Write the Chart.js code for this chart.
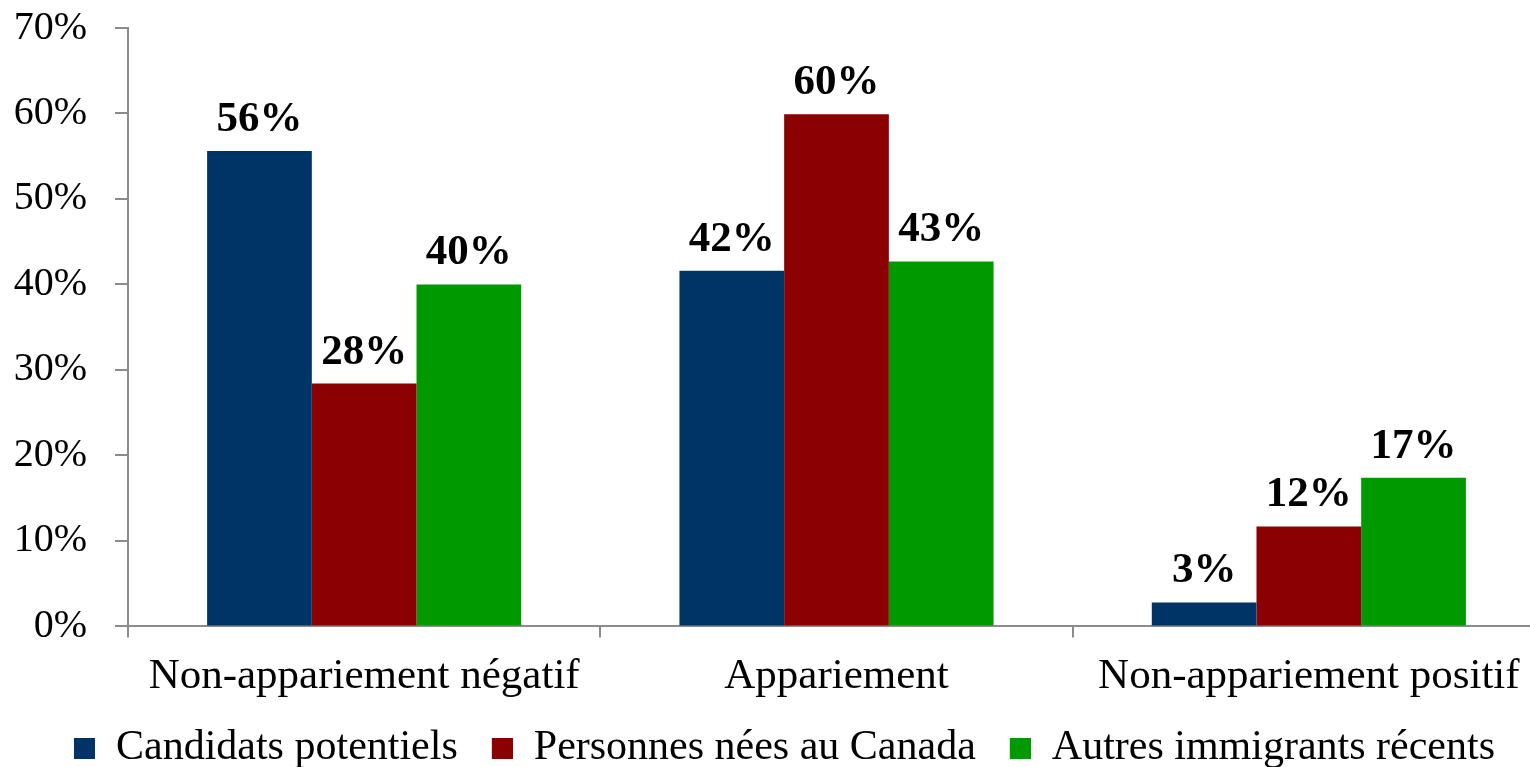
<!DOCTYPE html>
<html>
<head>
<meta charset="utf-8">
<script src="https://cdn.jsdelivr.net/npm/chart.js@4"></script>
<style>
    body { margin: 0; overflow: hidden; background: #fff; width: 1530px; height: 767px; position: relative; }
    #wrap { position: absolute; left: 0; top: -24px; width: 1545px; height: 803px; }
</style>
</head>
<body>
<div id="wrap"><canvas id="chart"></canvas></div>
<script>
const categories = ["Non-appariement négatif", "Appariement", "Non-appariement positif"];
const candidats = [55.6, 41.6, 2.8];
const natifs = [28.4, 59.9, 11.7];
const autresImmigrants = [40.0, 42.7, 17.4];
const seriesNames = ["Candidats potentiels", "Personnes nées au Canada", "Autres immigrants récents"];
const seriesColors = ["#003366", "#8b0000", "#009900"];
const yTicks = [0, 10, 20, 30, 40, 50, 60, 70];

const FONT = '"Liberation Serif", "Times New Roman", serif';
const AXIS_GRAY = "#8c8c8c";

// carré de légende avec un espace vide à gauche (écart entre les entrées)
function legendSwatch(color) {
    const c = document.createElement("canvas");
    c.width = 45;
    c.height = 21;
    const g = c.getContext("2d");
    g.fillStyle = color;
    g.fillRect(24, 0, 21, 21);
    return c;
}
const swatches = seriesColors.map(legendSwatch);

// étiquettes de valeur au-dessus des barres
const valueLabels = {
    id: "valueLabels",
    afterDatasetsDraw(chart) {
        const ctx = chart.ctx;
        ctx.save();
        ctx.font = "bold 43px " + FONT;
        ctx.fillStyle = "#000";
        ctx.textAlign = "center";
        ctx.textBaseline = "alphabetic";
        chart.data.datasets.forEach((ds, i) => {
            chart.getDatasetMeta(i).data.forEach((bar, j) => {
                ctx.fillText(Math.round(ds.data[j]) + "%", bar.x, bar.y - 20);
            });
        });
        ctx.restore();
    }
};

new Chart(document.getElementById("chart"), {
    type: "bar",
    data: {
        labels: categories,
        datasets: [
            { label: seriesNames[0], data: candidats, backgroundColor: seriesColors[0] },
            { label: seriesNames[1], data: natifs, backgroundColor: seriesColors[1] },
            { label: seriesNames[2], data: autresImmigrants, backgroundColor: seriesColors[2] }
        ]
    },
    options: {
        animation: false,
        responsive: true,
        maintainAspectRatio: false,
        devicePixelRatio: 1,
        layout: { padding: { left: 0, top: 6, right: 0, bottom: 0 } },
        datasets: {
            bar: { categoryPercentage: 0.665, barPercentage: 1.0 }
        },
        plugins: {
            tooltip: { enabled: false },
            legend: {
                position: "bottom",
                labels: {
                    color: "#000",
                    font: { family: FONT, size: 42 },
                    usePointStyle: true,
                    pointStyleWidth: 45,
                    boxHeight: 21,
                    padding: 10,
                    generateLabels: (chart) =>
                        Chart.defaults.plugins.legend.labels.generateLabels(chart)
                            .map((item, i) => ({ ...item, pointStyle: swatches[i] }))
                }
            }
        },
        scales: {
            x: {
                grid: {
                    display: true,
                    offset: true,
                    drawOnChartArea: false,
                    color: AXIS_GRAY,
                    lineWidth: 2,
                    tickLength: 11
                },
                border: { color: AXIS_GRAY, width: 2 },
                ticks: {
                    color: "#000",
                    font: { family: FONT, size: 43 },
                    padding: 14,
                    maxRotation: 0
                }
            },
            y: {
                min: yTicks[0],
                max: yTicks[yTicks.length - 1],
                afterBuildTicks: (axis) => { axis.ticks = yTicks.map(v => ({ value: v })); },
                afterFit: (axis) => { axis.width = 128; },
                grid: {
                    drawOnChartArea: false,
                    color: AXIS_GRAY,
                    lineWidth: 2,
                    tickLength: 13
                },
                border: { color: AXIS_GRAY, width: 2 },
                ticks: {
                    color: "#000",
                    font: { family: FONT, size: 40 },
                    padding: 28,
                    callback: (v) => v + "%"
                }
            }
        }
    },
    plugins: [valueLabels]
});
</script>
</body>
</html>
